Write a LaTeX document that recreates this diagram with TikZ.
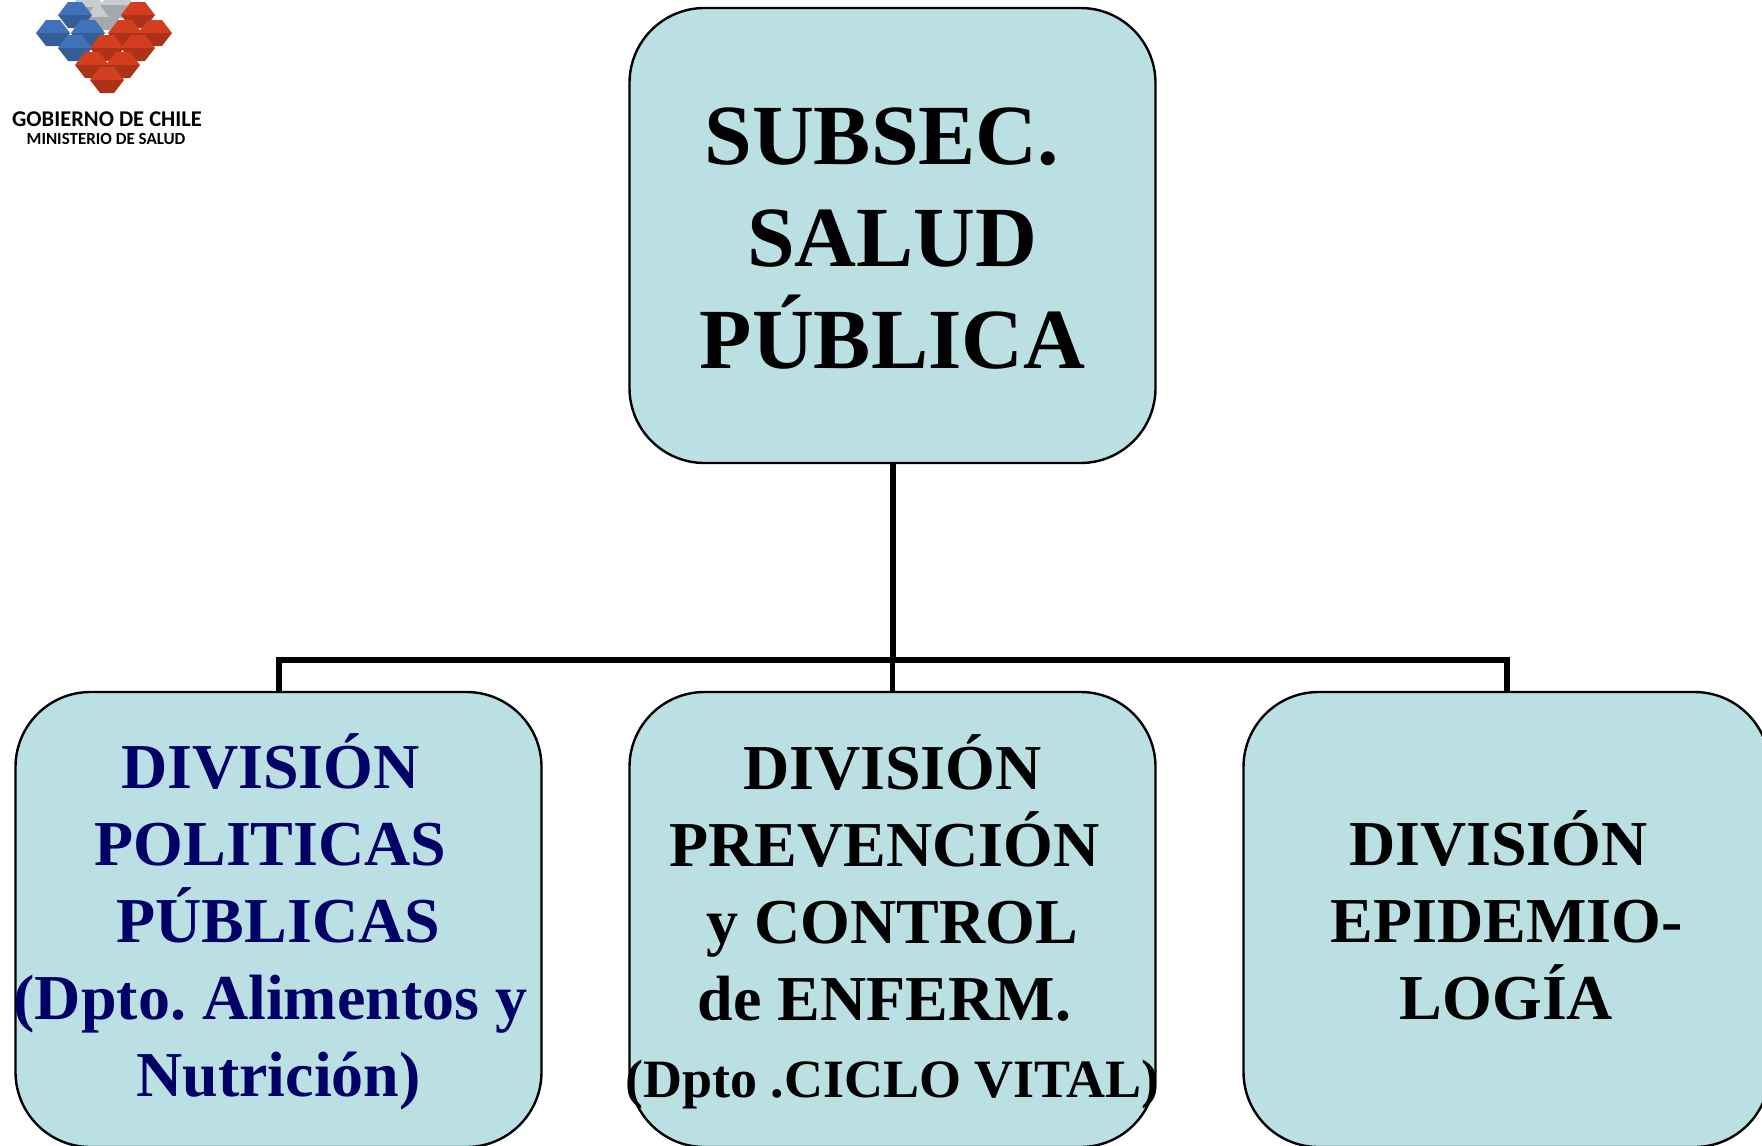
\documentclass[tikz,border=0pt]{standalone}
\usepackage{fontspec}
\setmainfont{Liberation Serif}
\newfontfamily\logofont{Carlito}
\usetikzlibrary{positioning}
\definecolor{boxfill}{HTML}{BAE0E4}
\definecolor{navytext}{HTML}{000066}
\definecolor{tileblue}{HTML}{3F72B8}
\definecolor{tilered}{HTML}{D23E1E}
\definecolor{tilegray}{HTML}{C8CCD0}
\newcommand{\tsp}{\hbox to .25em{}}
\newcommand{\tile}[3]{\fill[#1] (#2-17,#3) -- (#2-7,#3+13) -- (#2+7,#3+13) -- (#2+17,#3) -- cycle;
  \fill[#1!82!black] (#2-17,#3) -- (#2-7,#3-13) -- (#2+7,#3-13) -- (#2+17,#3) -- cycle;}
\tikzset{
  divbox/.style={draw=black,line width=2.4pt,fill=boxfill,rounded corners=75pt,
    minimum width=526pt,minimum height=455pt,inner ysep=0pt,inner xsep=-10pt,align=center,
    font=\frenchspacing\fontsize{64pt}{77pt}\selectfont\bfseries},
  rootbox/.style={divbox,font=\frenchspacing\fontsize{85.7pt}{102pt}\selectfont\bfseries},
  bus/.style={line width=6pt},
  drop/.style={line width=4.5pt}
}
\begin{document}
\begin{tikzpicture}[x=1pt,y=1pt,node distance=614pt,on grid]
    \clip (0,0) rectangle (1762,-1146);
    \fill[white] (0,0) rectangle (1762,-1146);

    % logo
    \foreach \x/\y in {88/-7,103/-17,117/-5} {\tile{tilegray}{\x}{\y}}
    \foreach \x/\y in {75/-15,53/-33,88/-33,75/-48} {\tile{tileblue}{\x}{\y}}
    \foreach \x/\y in {138/-15,125/-33,155/-33,107/-48,138/-48,92/-65,123/-65,107/-80} {\tile{tilered}{\x}{\y}}
    \node[inner sep=0pt,font=\logofont\bfseries\fontsize{22.5pt}{22pt}\selectfont] (gob) at (107,-119) {GOBIERNO DE CHILE};
    \node[inner sep=0pt,font=\logofont\bfseries\fontsize{17pt}{15pt}\selectfont] (minsal) at (106,-139) {MINISTERIO DE SALUD};

    % boxes
    \node[rootbox] (subsec) at (892.5,-235.5) {\rule{0pt}{63pt}SUBSEC.\tsp\\SALUD\\PÚBLICA};
    \node[divbox] (divprev) [below=684pt of subsec] {\rule{0pt}{60pt}DIVISIÓN\\PREVENCIÓN\tsp\\y CONTROL\\de ENFERM.\tsp\\{\fontsize{54pt}{77pt}\selectfont (Dpto .CICLO VITAL)}};
    \node[divbox,text=navytext] (divpol) [left=of divprev] {\rule{0pt}{60pt}DIVISIÓN\tsp\\POLITICAS\tsp\\PÚBLICAS\\(Dpto. Alimentos y\tsp\\Nutrición)};
    \node[divbox] (divepi) [right=of divprev] {DIVISIÓN\tsp\\EPIDEMIO-\\LOGÍA\rule[-8pt]{0pt}{8pt}};
    \coordinate (busm) at (892.5,-660);

    % connectors
    \draw[bus] (subsec.south) -- (busm);
    \draw[bus] (divpol.north) |- (busm) -| (divepi.north);
    \draw[drop] (busm) -- (divprev.north);
\end{tikzpicture}
\end{document}
